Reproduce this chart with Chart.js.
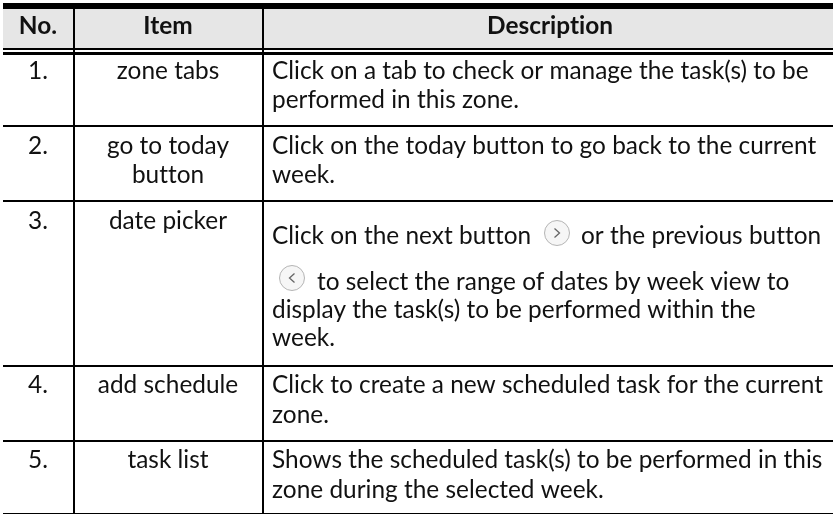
<!DOCTYPE html>
<html>
<head>
<meta charset="utf-8">
<title>Zone schedule table</title>
<script src="https://cdn.jsdelivr.net/npm/chart.js@4"></script>
<style>
    html, body { margin: 0; padding: 0; background: #fff; }
    canvas { display: block; }
</style>
</head>
<body>
<canvas id="tableChart" width="833" height="514"></canvas>
<script>
var headers = ['No.', 'Item', 'Description'];
var numbers = ['1.', '2.', '3.', '4.', '5.'];
var items = [
    ['zone tabs'],
    ['go to today', 'button'],
    ['date picker'],
    ['add schedule'],
    ['task list']
];
var descriptions = [
    ['Click on a tab to check or manage the task(s) to be', 'performed in this zone.'],
    ['Click on the today button to go back to the current', 'week.'],
    ['Click on the next button', 'to select the range of dates by week view to', 'display the task(s) to be performed within the', 'week.'],
    ['Click to create a new scheduled task for the current', 'zone.'],
    ['Shows the scheduled task(s) to be performed in this', 'zone during the selected week.']
];
var nextText = 'or the previous button';

// table layout, in page pixels (the scales run 1:1 with the page)
var columnEdges = [74, 263];
var ruleRows = [6, 49, 53.5, 126, 201, 366, 441, 513];
var ruleWidths = { 6: 6, 49: 2, 53.5: 3, 126: 2, 201: 2, 366: 2, 441: 2, 513: 1 };
var numberX = 38, itemX = 168, textX = 272, headerX = 550;
var headerY = 34;
var numberY = [79, 154, 229, 393, 468];
var itemY = [[79], [154, 183], [229], [393], [468]];
var descY = [[79, 108], [154, 183], [244, 290, 318, 346], [393, 423], [468, 498]];
var nextTextX = 581, afterButtonX = 317;
var arrows = [{ x: 557, y: 233, dir: 1 }, { x: 292, y: 278, dir: -1 }];

var bodyFont = '24.4px Lato';
var headFont = 'bold 24.4px Lato';
var inkColor = '#111111';

var tablePlugin = {
    id: 'tablePlugin',
    beforeDraw: function (chart) {
        var c = chart.ctx, x = chart.scales.x, y = chart.scales.y;
        c.save();
        c.fillStyle = '#e6e6e6';
        c.fillRect(x.getPixelForValue(3), y.getPixelForValue(6), x.getPixelForValue(833) - x.getPixelForValue(3), y.getPixelForValue(49) - y.getPixelForValue(6));
        c.restore();
    },
    afterDraw: function (chart) {
        var c = chart.ctx, x = chart.scales.x, y = chart.scales.y;
        c.save();
        c.fillStyle = inkColor;
        c.textBaseline = 'alphabetic';
        c.letterSpacing = '0.01px'; // keeps Lato from joining tt and ti

        function put(text, px, py, align) {
            c.textAlign = align;
            c.fillText(text, x.getPixelForValue(px), y.getPixelForValue(py));
        }

        c.font = headFont;
        put(headers[0], numberX, headerY, 'center');
        put(headers[1], itemX, headerY, 'center');
        put(headers[2], headerX, headerY, 'center');

        c.font = bodyFont;
        $each(numbers, function (i, n) {
            put(n, numberX, numberY[i], 'center');
            $each(items[i], function (j, line) {
                put(line, itemX, itemY[i][j], 'center');
            });
            $each(descriptions[i], function (j, line) {
                put(line, i === 2 && j === 1 ? afterButtonX : textX, descY[i][j], 'left');
            });
        });
        put(nextText, nextTextX, descY[2][0], 'left');

        // chevrons inside the round buttons
        c.strokeStyle = '#666666';
        c.lineWidth = 1.3;
        $each(arrows, function (i, a) {
            var cx = x.getPixelForValue(a.x), cy = y.getPixelForValue(a.y);
            c.beginPath();
            c.moveTo(cx - 2.5 * a.dir, cy - 4.5);
            c.lineTo(cx + 2.5 * a.dir, cy);
            c.lineTo(cx - 2.5 * a.dir, cy + 4.5);
            c.stroke();
        });
        c.restore();
    }
};

function $each(list, fn) {
    for (var i = 0; i < list.length; i++) fn(i, list[i]);
}

var chart = new Chart(document.getElementById('tableChart'), {
    type: 'scatter',
    plugins: [tablePlugin],
    data: {
        datasets: [{
            label: 'buttons',
            data: arrows,
            pointRadius: 12.5,
            pointHoverRadius: 12.5,
            pointBackgroundColor: '#f6f6f6',
            pointBorderColor: '#b4b4b4',
            pointBorderWidth: 1
        }]
    },
    options: {
        responsive: false,
        animation: false,
        events: [],
        layout: { autoPadding: false, padding: { left: 3, top: 3 } },
        plugins: { legend: { display: false }, tooltip: { enabled: false } },
        scales: {
            x: {
                type: 'linear',
                min: 3,
                max: 833,
                afterBuildTicks: function (axis) {
                    axis.ticks = columnEdges.map(function (v) { return { value: v }; });
                },
                ticks: { display: false },
                border: { display: false },
                grid: { drawTicks: false, color: '#000', lineWidth: 2 }
            },
            y: {
                type: 'linear',
                reverse: true,
                min: 3,
                max: 514,
                afterBuildTicks: function (axis) {
                    axis.ticks = ruleRows.map(function (v) { return { value: v }; });
                },
                ticks: { display: false },
                border: { display: false },
                grid: {
                    drawTicks: false,
                    color: '#000',
                    lineWidth: function (ctx) { return ruleWidths[ctx.tick.value]; }
                }
            }
        }
    }
});
</script>
</body>
</html>
